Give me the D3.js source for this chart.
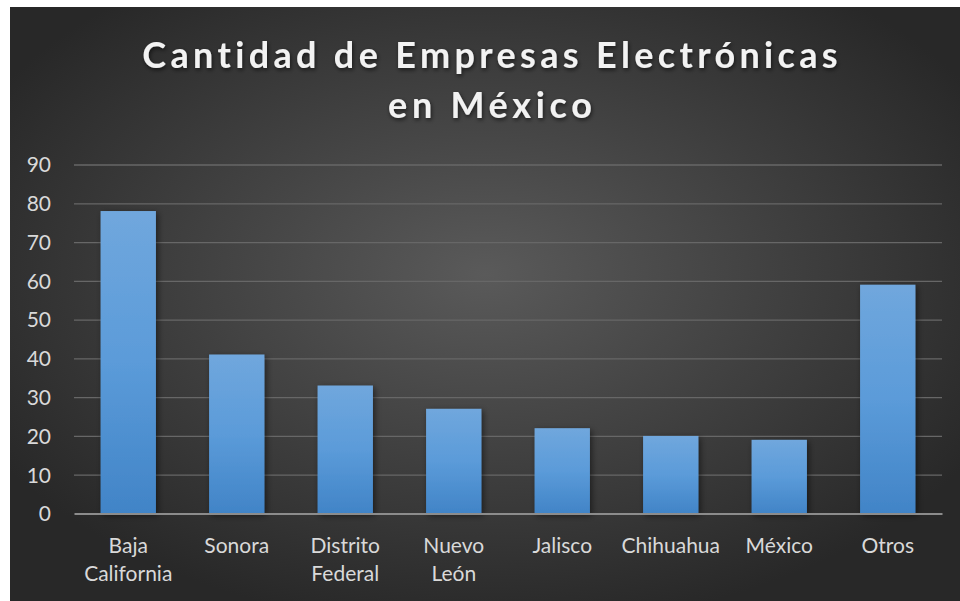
<!DOCTYPE html>
<html><head><meta charset="utf-8">
<script src="https://cdn.jsdelivr.net/npm/d3@7"></script>
<style>html,body{margin:0;padding:0;background:#fff;}svg{display:block;}</style>
</head><body>
<svg id="c" width="960" height="601"></svg>
<script>
const categories = ["Baja California","Sonora","Distrito Federal","Nuevo León","Jalisco","Chihuahua","México","Otros"];
const values = [78,41,33,27,22,20,19,59];
const yTicks = [0,10,20,30,40,50,60,70,80,90];
const titleLines = ["Cantidad de Empresas Electrónicas","en México"];
const labelLines = [["Baja","California"],["Sonora"],["Distrito","Federal"],["Nuevo","León"],["Jalisco"],["Chihuahua"],["México"],["Otros"]];

const FONT = "Lato, 'Open Sans', sans-serif";
const svg = d3.select("#c");
const defs = svg.append("defs");
const bg = defs.append("radialGradient").attr("id","bg").attr("cx","0.5").attr("cy","0.45").attr("r","0.6");
bg.append("stop").attr("offset","0").attr("stop-color","#5a5a5a");
bg.append("stop").attr("offset","1").attr("stop-color","#282828");
const bar = defs.append("linearGradient").attr("id","bar").attr("x1",0).attr("y1",0).attr("x2",0).attr("y2",1);
bar.append("stop").attr("offset","0").attr("stop-color","#70a7dd");
bar.append("stop").attr("offset","0.5").attr("stop-color","#5b9bd9");
bar.append("stop").attr("offset","1").attr("stop-color","#4184c7");
const sh = defs.append("filter").attr("id","sh").attr("x","-30%").attr("y","-30%").attr("width","160%").attr("height","160%");
sh.append("feDropShadow").attr("dx",2).attr("dy",2).attr("stdDeviation",3).attr("flood-color","#000").attr("flood-opacity",0.5);
const tsh = defs.append("filter").attr("id","tsh").attr("x","-10%").attr("y","-30%").attr("width","120%").attr("height","160%");
tsh.append("feDropShadow").attr("dx",1).attr("dy",2).attr("stdDeviation",2).attr("flood-color","#000").attr("flood-opacity",0.6);

svg.append("rect").attr("x",10).attr("y",7).attr("width",950).attr("height",594).attr("fill","url(#bg)");

const x = d3.scaleBand().domain(categories).range([74,942]).paddingInner(0.49).paddingOuter(0.245);
const y = d3.scaleLinear().domain([0,90]).range([513.5,164.5]);

// gridlines
const grid = d3.axisLeft(y).tickValues(yTicks.filter(d=>d>0)).tickSize(-(942-74)).tickFormat("");
svg.append("g").attr("transform","translate(74,0)").call(grid)
  .call(g=>g.select(".domain").remove())
  .call(g=>g.selectAll("line").attr("stroke","#676767").attr("stroke-width",1.3));

// y labels
const yAxis = d3.axisLeft(y).tickValues(yTicks).tickSize(0).tickPadding(0);
svg.append("g").attr("transform","translate(51,0)").call(yAxis)
  .call(g=>g.select(".domain").remove())
  .call(g=>g.selectAll("text").attr("fill","#d9d9d9").attr("font-family",FONT).attr("font-size",21).attr("dy","0.35em"));

// bars
svg.append("g").selectAll("rect").data(categories).join("rect")
  .attr("x",d=>x(d)).attr("width",x.bandwidth())
  .attr("y",(d,i)=>y(values[i])).attr("height",(d,i)=>y(0)-y(values[i]))
  .attr("fill","url(#bar)").attr("filter","url(#sh)");

// baseline
const xAxis = d3.axisBottom(x).tickSize(0).tickFormat("");
svg.append("g").attr("transform",`translate(0,${y(0)})`).call(xAxis)
  .call(g=>g.select(".domain").attr("stroke","#8c8c8c").attr("stroke-width",2));

// x labels
const xl = svg.append("g").selectAll("text").data(categories).join("text")
  .attr("x",d=>x(d)+x.bandwidth()/2).attr("y",553)
  .attr("text-anchor","middle").attr("fill","#d9d9d9")
  .attr("font-family",FONT).attr("font-size",21);
xl.selectAll("tspan").data((d,i)=>labelLines[i]).join("tspan")
  .attr("x",function(){return this.parentNode.getAttribute("x");})
  .attr("dy",(d,i)=>i===0?0:28).text(d=>d);

// title
const tt = svg.append("g").attr("filter","url(#tsh)");
const targetW = [696, 204];
titleLines.forEach((t,i)=>{
  const el = tt.append("text").attr("x",490).attr("y",68+i*50).attr("text-anchor","middle")
    .attr("fill","#f2f2f2").attr("font-family",FONT).attr("font-weight","bold")
    .attr("font-size",36).text(t);
  const w = el.node().getComputedTextLength();
  const ls = Math.max(0,(targetW[i]-w)/Math.max(1,t.length-1));
  el.attr("letter-spacing",ls+"px").attr("x",490+ls/2);
});
</script>
</body></html>
